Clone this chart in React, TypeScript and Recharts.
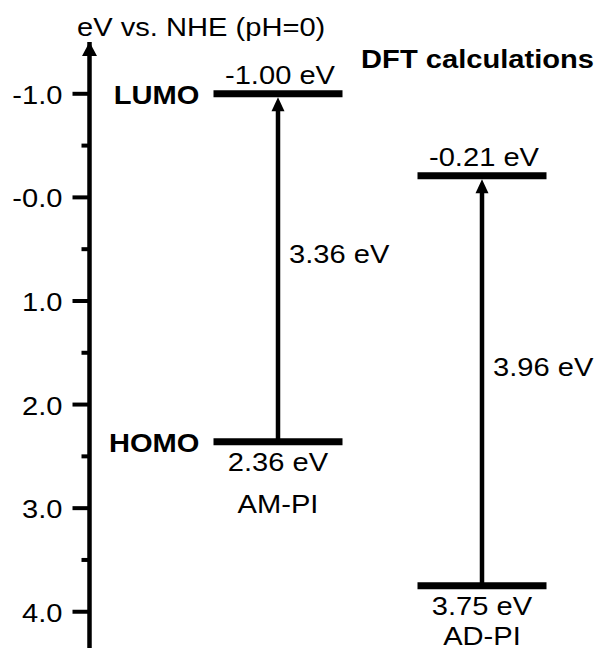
import { ComposedChart, Line, XAxis, YAxis, ReferenceLine } from 'recharts';

const materials = ['AM-PI', 'AD-PI'];
const lumoEnergy = [-1.0, -0.21];
const homoEnergy = [2.36, 3.75];
const bandGap = [3.36, 3.96];
const orbitalNames = ['LUMO', 'HOMO'];

const yTicks = [-1, -0.5, 0, 0.5, 1, 1.5, 2, 2.5, 3, 3.5, 4];
const majorTicks = [-1, 0, 1, 2, 3, 4];
const majorTickLabels = ['-1.0', '-0.0', '1.0', '2.0', '3.0', '4.0'];
const yDomain = [-1.5, 4.35];

const axisTitle = 'eV vs. NHE (pH=0)';
const chartTitle = 'DFT calculations';

const chartData = materials.map((name, i) => ({
  name,
  lumo: lumoEnergy[i],
  homo: homoEnergy[i],
  gap: bandGap[i],
}));

const FONT = '"Liberation Sans", Arial, Helvetica, sans-serif';
const LEVEL_HALF = 64.5;

// text in the figure is a bit wider than plain Arial
const SText = ({ x, y, children, anchor = 'start', bold = false, baseline }: any) => (
  <text
    transform={`translate(${x},${y}) scale(1.12,1)`}
    textAnchor={anchor}
    dominantBaseline={baseline}
    fontFamily={FONT}
    fontSize={26}
    fontWeight={bold ? 700 : 400}
    fill="#000"
  >
    {children}
  </text>
);

const fmt = (v: number) => `${v.toFixed(2)} eV`;

const LevelMark = ({ cx, cy, index, value, kind }: any) => {
  if (cx == null || cy == null) return null;
  const isLumo = kind === 'lumo';
  return (
    <g>
      <line x1={cx - LEVEL_HALF} x2={cx + LEVEL_HALF} y1={cy} y2={cy} stroke="#000" strokeWidth={7} />
      {isLumo ? (
        <SText x={cx + 2} y={cy - 10} anchor="middle">{fmt(value)}</SText>
      ) : (
        <>
          <SText x={cx} y={cy + 29} anchor="middle">{fmt(value)}</SText>
          {/* name sits under the value, kept inside the picture */}
          <SText x={cx} y={Math.min(cy + 71, 645)} anchor="middle">{materials[index]}</SText>
        </>
      )}
      {index === 0 && (
        <SText x={cx - LEVEL_HALF - 14} y={cy + 1} anchor="end" bold baseline="central">
          {isLumo ? orbitalNames[0] : orbitalNames[1]}
        </SText>
      )}
    </g>
  );
};

const GapArrow = ({ x1, y1, x2, y2, gap }: any) => {
  const tip = y2 + 3.5;
  return (
    <g>
      <line x1={x1} x2={x2} y1={y1} y2={tip + 12} stroke="#000" strokeWidth={4.5} />
      <polygon points={`${x2},${tip} ${x2 - 6.5},${tip + 14} ${x2 + 6.5},${tip + 14}`} fill="#000" />
      <SText x={x1 + 11} y={(y1 + y2) / 2 - 14} baseline="central">{fmt(gap)}</SText>
    </g>
  );
};

const AxisHead = ({ x1, y1, x2 }: any) => (
  <g>
    <polygon points={`${x1},${y1} ${x1 - 7.5},${y1 + 14} ${x1 + 7.5},${y1 + 14}`} fill="#000" />
    <SText x={x1 - 12.5} y={y1 - 6}>{axisTitle}</SText>
    <SText x={x2 - 4} y={y1 + 26} anchor="end" bold>{chartTitle}</SText>
  </g>
);

const EnergyTick = ({ x, y, payload }: any) => {
  const v = payload.value;
  const k = majorTicks.indexOf(v);
  const major = k >= 0;
  return (
    <g>
      <line x1={x - (major ? 17 : 8)} x2={x} y1={y} y2={y} stroke="#000" strokeWidth={4} />
      {major && (
        <SText x={x - 27} y={y + 1} anchor="end" baseline="central">{majorTickLabels[k]}</SText>
      )}
    </g>
  );
};

export default function App() {
  return (
    <div style={{ position: 'absolute', left: 0, top: 0, width: 598, height: 652, background: '#fff' }}>
      <ComposedChart
        width={598}
        height={652}
        data={chartData}
        margin={{ top: 42, right: 0, bottom: 4, left: 0 }}
      >
        <XAxis dataKey="name" type="category" hide padding={{ left: 188.5, right: 116 }} />
        <YAxis
          type="number"
          domain={yDomain}
          reversed
          allowDataOverflow
          ticks={yTicks}
          interval={0}
          width={89.5}
          tickSize={0}
          tickMargin={0}
          tickLine={false}
          axisLine={{ stroke: '#000', strokeWidth: 4.5 }}
          tick={<EnergyTick />}
        />
        <ReferenceLine y={yDomain[0]} shape={(p: any) => <AxisHead {...p} />} />
        {chartData.map((d) => (
          <ReferenceLine
            key={`gap-${d.name}`}
            segment={[
              { x: d.name, y: d.homo },
              { x: d.name, y: d.lumo },
            ]}
            shape={(p: any) => <GapArrow {...p} gap={d.gap} />}
          />
        ))}
        <Line
          dataKey="lumo"
          stroke="none"
          isAnimationActive={false}
          activeDot={false}
          dot={(p: any) => <LevelMark key={`lumo-${p.index}`} {...p} kind="lumo" />}
        />
        <Line
          dataKey="homo"
          stroke="none"
          isAnimationActive={false}
          activeDot={false}
          dot={(p: any) => <LevelMark key={`homo-${p.index}`} {...p} kind="homo" />}
        />
      </ComposedChart>
    </div>
  );
}
